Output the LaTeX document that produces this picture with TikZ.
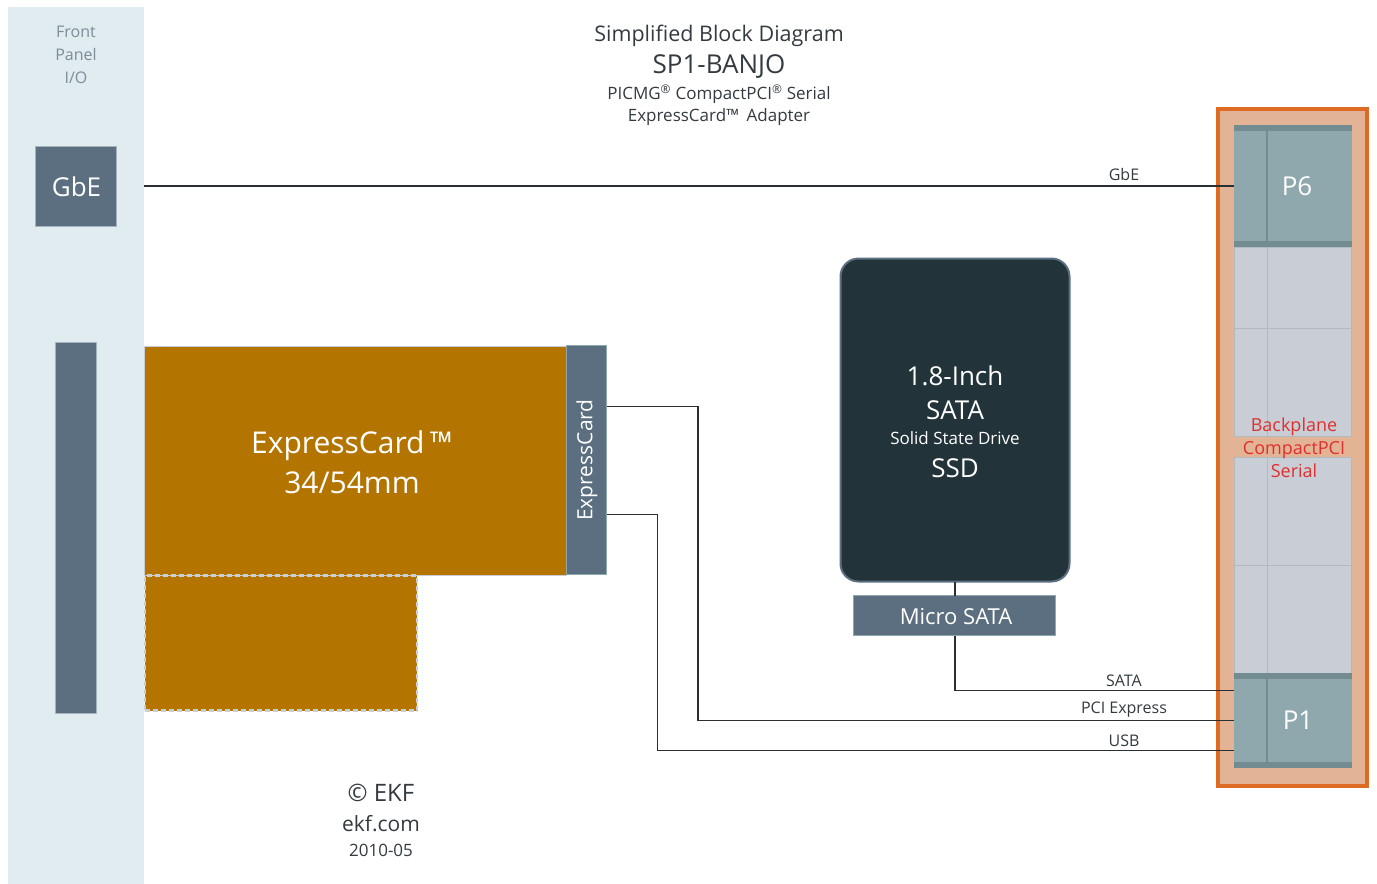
\documentclass[tikz,border=0pt]{standalone}
\usepackage{fontspec}
\setmainfont{Open Sans}
\definecolor{fpbg}{HTML}{E0ECEF}
\definecolor{fptext}{HTML}{7D8C96}
\definecolor{slate}{HTML}{5C6F80}
\definecolor{slateedge}{HTML}{A3B4BF}
\definecolor{brown}{HTML}{B37400}
\definecolor{ssdfill}{HTML}{22333A}
\definecolor{pfill}{HTML}{8FA8AE}
\definecolor{pstrip}{HTML}{738C92}
\definecolor{slotfill}{HTML}{C9CDD5}
\definecolor{slotline}{HTML}{B3B9C1}
\definecolor{peach}{HTML}{E2B394}
\definecolor{orangeedge}{HTML}{DF6A24}
\definecolor{redtext}{HTML}{E0302E}
\definecolor{darktext}{HTML}{333A40}
\definecolor{wire}{HTML}{2A2F33}
\begin{document}
\begin{tikzpicture}[x=1pt,y=-1pt,
  box/.style={anchor=north west, inner sep=0pt, outer sep=0pt},
  wirestyle/.style={draw=wire, line width=1.1pt},
  lbl/.style={text=darktext, inner sep=0pt, font=\fontsize{16}{18}\selectfont},
  whitetxt/.style={text=white, inner sep=0pt, align=center}
]
\useasboundingbox (0,0) rectangle (1377,884);
% front panel
\node[box, fill=fpbg, minimum width=136pt, minimum height=877pt] (fp) at (8,7) {};
\node[text=fptext, align=center, inner sep=0pt, font=\fontsize{16}{23}\selectfont] (fptxt) at (76,55) {Front\\Panel\\I/O};
\node[box, fill=slate, draw=slateedge, line width=1.5pt, minimum width=81pt, minimum height=80pt] (gbe) at (35.5,146.5) {};
\node[whitetxt, font=\fontsize{26}{28}\selectfont] (gbetxt) at (76.5,187) {GbE};
\node[box, fill=slate, draw=slateedge, line width=1.5pt, minimum width=41pt, minimum height=371pt] (bar) at (55.5,342.5) {};

% title
\node[text=darktext, inner sep=0pt, font=\fontsize{21.5}{24}\selectfont] (t1) at (719,35.5) {Simplified Block Diagram};
\node[text=darktext, inner sep=0pt, font=\fontsize{26}{28}\selectfont] (t2) at (719,67) {SP1-BANJO};
\node[text=darktext, inner sep=0pt, font=\fontsize{17}{20}\selectfont] (t3) at (719,94.5) {PICMG\textsuperscript{®} CompactPCI\textsuperscript{®} Serial};
\node[text=darktext, inner sep=0pt, font=\fontsize{17}{20}\selectfont] (t4) at (719,117.5) {ExpressCard™\, Adapter};

% expresscard
\node[box, fill=brown, draw=slotfill, line width=1pt, minimum width=422pt, minimum height=229pt] (ec) at (144,346) {};
\node[whitetxt, font=\fontsize{30}{40}\selectfont] (ectxt) at (352,462) {ExpressCard\,™\\34/54mm};
\node[box, fill=brown, draw=slotfill, line width=2.2pt, dash pattern=on 5pt off 3pt, minimum width=272pt, minimum height=135pt] (ecext) at (145,575.5) {};
\node[box, fill=slate, draw=pfill, line width=1.5pt, minimum width=40pt, minimum height=229pt] (ecconn) at (566.5,345.5) {};
\node[whitetxt, rotate=90, font=\fontsize{21}{24}\selectfont] (ecconntxt) at (587,460) {ExpressCard};

% SSD
\node[box, fill=ssdfill, draw=slate, line width=2pt, rounded corners=18pt, minimum width=229pt, minimum height=323pt] (ssd) at (840.5,258.5) {};
\node[whitetxt, font=\fontsize{26}{28}\selectfont] (ssd1) at (955,376) {1.8-Inch};
\node[whitetxt, font=\fontsize{26}{28}\selectfont] (ssd2) at (955,410) {SATA};
\node[whitetxt, font=\fontsize{17}{20}\selectfont] (ssd3) at (955,438) {Solid State Drive};
\node[whitetxt, font=\fontsize{26}{28}\selectfont] (ssd4) at (955,468) {SSD};
\node[box, fill=slate, draw=pfill, line width=1.5pt, minimum width=202pt, minimum height=40pt] (msata) at (853.5,595.5) {};
\node[whitetxt, font=\fontsize{22}{24}\selectfont] (msatatxt) at (956,617) {Micro SATA};

% backplane
\node[box, fill=peach, draw=orangeedge, line width=4pt, minimum width=149pt, minimum height=677pt] (bp) at (1218,109) {};
% slots
\node[box, fill=slotfill, draw=slotline, line width=1pt, minimum width=117pt, minimum height=81pt] (s1) at (1234.5,247) {};
\node[box, fill=slotfill, draw=slotline, line width=1pt, minimum width=117pt, minimum height=108pt] (s2) at (1234.5,328) {};
\node[box, fill=slotfill, draw=slotline, line width=1pt, minimum width=117pt, minimum height=108pt] (s3) at (1234.5,457) {};
\node[box, fill=slotfill, draw=slotline, line width=1pt, minimum width=117pt, minimum height=108pt] (s4) at (1234.5,565) {};
\draw[slotline, line width=1.2pt] (s1.north west) ++(33,0) -- ++(0,189);
\draw[slotline, line width=1.2pt] (s3.north west) ++(33,0) -- ++(0,216);
% P6
\node[box, fill=pfill, minimum width=118pt, minimum height=122pt] (p6) at (1234,125) {};
\fill[pstrip] (p6.north west) rectangle ++(118,6);
\fill[pstrip] (p6.south west) rectangle ++(118,-6);
\draw[pstrip, line width=1.2pt] (p6.north west) ++(33,0) -- ++(0,122);
\node[whitetxt, font=\fontsize{26}{28}\selectfont] (p6txt) at (1297,186) {P6};
% P1
\node[box, fill=pfill, minimum width=118pt, minimum height=95pt] (p1) at (1234,673) {};
\fill[pstrip] (p1.north west) rectangle ++(118,6);
\fill[pstrip] (p1.south west) rectangle ++(118,-6);
\draw[pstrip, line width=1.2pt] (p1.north west) ++(33,0) -- ++(0,95);
\node[whitetxt, font=\fontsize{26}{28}\selectfont] (p1txt) at (1298,720) {P1};
\node[text=redtext, align=center, inner sep=0pt, font=\fontsize{18}{23}\selectfont] (bptxt) at (1294,448) {Backplane\\CompactPCI\\Serial};

% wires
\coordinate (gbeY) at (144,186);
\draw[wirestyle] (gbeY) -- (gbeY -| p6.west);
\node[lbl] (gbelbl) at (1124,174.5) {GbE};

\coordinate (pcieA) at (607,406.5);
\coordinate (usbA) at (607,514.5);
\coordinate (sataY) at (0,690.5);
\coordinate (pcieY) at (0,720.5);
\coordinate (usbY) at (0,750.5);
\draw[wirestyle] (ssd.south -| 955,0) -- (msata.north -| 955,0);
\draw[wirestyle] (msata.south -| 955,0) -- (955,690.5) -- (p1.west |- sataY);
\draw[wirestyle] (pcieA) -- (698,406.5) -- (698,720.5) -- (p1.west |- pcieY);
\draw[wirestyle] (usbA) -- (657.5,514.5) -- (657.5,750.5) -- (p1.west |- usbY);
\node[lbl] (satalbl) at (1124,681) {SATA};
\node[lbl] (pcielbl) at (1124,709.5) {PCI Express};
\node[lbl] (usblbl) at (1124,741) {USB};

% footer
\node[text=darktext, inner sep=0pt, font=\fontsize{24}{26}\selectfont] (c1) at (381,793) {© EKF};
\node[text=darktext, inner sep=0pt, font=\fontsize{21}{24}\selectfont] (c2) at (381,824) {ekf.com};
\node[text=darktext, inner sep=0pt, font=\fontsize{17}{20}\selectfont] (c3) at (381,850) {2010-05};
\end{tikzpicture}
\end{document}
